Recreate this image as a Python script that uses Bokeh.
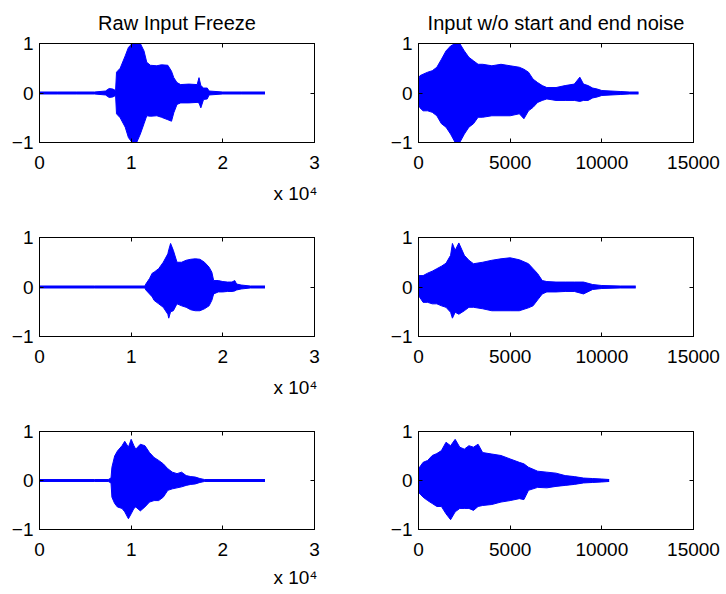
from bokeh.plotting import figure
from bokeh.layouts import column, row
from bokeh.models import Range1d, LinearAxis, FixedTicker, Title
from bokeh.embed import file_html
from bokeh.resources import INLINE

# ---------------- data (envelope of each waveform) ----
titles = ["Raw Input Freeze", "Input w/o start and end noise"]
sci_label = "x 10\u2074"

raw_ticks = [0, 10000, 20000, 30000]
raw_tick_labels = ["0", "1", "2", "3"]
trim_ticks = [0, 5000, 10000, 15000]
trim_tick_labels = ["0", "5000", "10000", "15000"]
y_ticks = [-1, 0, 1]
y_tick_labels = ["\u22121", "0", "1"]

# panel 1: raw input 1
x1 = [0, 2000, 4000, 6000, 7200, 7600, 8000, 8300, 8400, 8800, 9350, 9700, 10100, 10600,
      11000, 11400, 11700, 12100, 12800, 13300, 14000, 14400, 14650, 15000, 15400, 16300,
      17200, 17400, 17600, 17900, 18300, 18500, 20000, 22000, 24600]
u1 = [0.02, 0.02, 0.02, 0.02, 0.04, 0.09, 0.08, 0.05, 0.42, 0.50, 0.75, 0.92, 1.0, 1.0,
      1.0, 0.85, 0.62, 0.56, 0.55, 0.57, 0.56, 0.44, 0.31, 0.21, 0.17, 0.18,
      0.17, 0.31, 0.15, 0.10, 0.10, 0.04, 0.02, 0.02, 0.02]
l1 = [-0.02, -0.02, -0.02, -0.02, -0.04, -0.09, -0.08, -0.05, -0.42, -0.50, -0.69, -0.90, -1.0, -1.0,
      -0.83, -0.62, -0.46, -0.47, -0.46, -0.49, -0.54, -0.57, -0.40, -0.23, -0.20, -0.20,
      -0.19, -0.20, -0.30, -0.13, -0.12, -0.04, -0.02, -0.02, -0.02]

# panel 2: trimmed input 1
x2 = [0, 80, 250, 500, 750, 1000, 1250, 1500, 1750, 2000, 2250, 2500, 2750, 3000, 3250,
      3500, 4000, 4500, 5000, 5500, 5750, 6000, 6250, 6500, 6750, 7000, 7500, 8000, 8500,
      8800, 9000, 9250, 9500, 9750, 10000, 10500, 11000, 11500, 12000]
u2 = [0.28, 0.35, 0.38, 0.42, 0.45, 0.52, 0.68, 0.85, 0.95, 1.0, 1.0, 0.85, 0.72, 0.65, 0.58,
      0.58, 0.55, 0.58, 0.55, 0.52, 0.48, 0.42, 0.28, 0.21, 0.15, 0.11, 0.11, 0.15, 0.18,
      0.32, 0.18, 0.15, 0.10, 0.08, 0.05, 0.04, 0.03, 0.02, 0.02]
l2 = [-0.22, -0.30, -0.36, -0.36, -0.39, -0.46, -0.62, -0.69, -0.83, -1.0, -1.0, -0.83, -0.69, -0.62, -0.49,
      -0.49, -0.46, -0.46, -0.46, -0.42, -0.52, -0.36, -0.29, -0.19, -0.15, -0.12, -0.15, -0.15, -0.15,
      -0.17, -0.15, -0.15, -0.10, -0.08, -0.05, -0.04, -0.03, -0.02, -0.02]

# panel 3: raw input 2
x3 = [0, 3000, 6000, 9000, 11500, 11600, 12000, 12300, 12500, 13000, 13500, 14000, 14100,
      14300, 14600, 15000, 15500, 16000, 16500, 17000, 17500, 18000, 18500, 18800, 19000,
      19500, 20000, 20500, 21000, 21300, 21500, 22000, 23000, 24600]
u3 = [0.02, 0.02, 0.02, 0.02, 0.02, 0.06, 0.17, 0.28, 0.30, 0.37, 0.50, 0.67, 0.75,
      0.88, 0.74, 0.50, 0.50, 0.54, 0.56, 0.57, 0.56, 0.50, 0.40, 0.30, 0.13,
      0.13, 0.11, 0.10, 0.10, 0.13, 0.06, 0.04, 0.02, 0.02]
l3 = [-0.02, -0.02, -0.02, -0.02, -0.02, -0.06, -0.14, -0.20, -0.27, -0.34, -0.41, -0.55, -0.63,
      -0.50, -0.48, -0.34, -0.38, -0.41, -0.46, -0.48, -0.48, -0.44, -0.38, -0.27, -0.14,
      -0.10, -0.10, -0.09, -0.09, -0.08, -0.06, -0.04, -0.02, -0.02]

# panel 4: trimmed input 2
x4 = [0, 250, 500, 750, 1000, 1250, 1500, 1750, 1850, 2000, 2200, 2500, 2750, 3000, 3500,
      4000, 4500, 5000, 5500, 6000, 6250, 6500, 6750, 7000, 7500, 8000, 8500, 9000, 9500,
      10000, 11000, 11850]
u4 = [0.23, 0.23, 0.28, 0.32, 0.37, 0.42, 0.48, 0.64, 0.88, 0.74, 0.89, 0.64, 0.54, 0.47, 0.50,
      0.54, 0.57, 0.59, 0.55, 0.47, 0.37, 0.27, 0.13, 0.11, 0.10, 0.10, 0.10, 0.10, 0.05,
      0.03, 0.02, 0.02]
l4 = [-0.17, -0.31, -0.31, -0.34, -0.34, -0.38, -0.41, -0.51, -0.63, -0.51, -0.55, -0.48, -0.41, -0.41, -0.44,
      -0.48, -0.48, -0.48, -0.48, -0.42, -0.38, -0.26, -0.14, -0.10, -0.10, -0.09, -0.09, -0.14, -0.05,
      -0.03, -0.02, -0.02]

# panel 5: raw input 3
x5 = [0, 3000, 6000, 7500, 7800, 7900, 8200, 8500, 9000, 9300, 9700, 10000, 10300, 10500,
      11000, 11500, 12000, 12500, 13000, 13500, 14000, 14500, 15000, 15500, 16000, 16500,
      17000, 17500, 18000, 21000, 24600]
u5 = [0.02, 0.02, 0.02, 0.02, 0.05, 0.27, 0.50, 0.60, 0.71, 0.80, 0.68, 0.84, 0.71, 0.64,
      0.74, 0.71, 0.57, 0.47, 0.41, 0.34, 0.24, 0.17, 0.14, 0.17, 0.10, 0.08,
      0.07, 0.04, 0.02, 0.02, 0.02]
l5 = [-0.02, -0.02, -0.02, -0.02, -0.05, -0.34, -0.47, -0.54, -0.57, -0.64, -0.78, -0.68, -0.57, -0.54,
      -0.62, -0.54, -0.44, -0.41, -0.41, -0.34, -0.20, -0.17, -0.15, -0.13, -0.10, -0.08,
      -0.07, -0.04, -0.02, -0.02, -0.02]

# panel 6: trimmed input 3
x6 = [0, 250, 500, 750, 1000, 1250, 1500, 1750, 2000, 2250, 2500, 2750, 3000, 3250, 3500,
      4000, 4500, 5000, 5500, 5750, 6000, 6500, 7000, 7500, 8000, 8500, 9000, 9500, 10000, 10400]
u6 = [0.24, 0.37, 0.41, 0.51, 0.55, 0.61, 0.78, 0.71, 0.84, 0.68, 0.64, 0.71, 0.68, 0.74, 0.57,
      0.54, 0.51, 0.44, 0.37, 0.34, 0.27, 0.19, 0.17, 0.15, 0.10, 0.08, 0.05, 0.04, 0.03, 0.02]
l6 = [-0.24, -0.34, -0.41, -0.47, -0.53, -0.53, -0.68, -0.80, -0.64, -0.57, -0.57, -0.57, -0.61, -0.53, -0.51,
      -0.49, -0.44, -0.41, -0.37, -0.39, -0.20, -0.14, -0.15, -0.12, -0.10, -0.08, -0.05, -0.04, -0.03, -0.02]

# ---------------- styling ----------------------------------------------------
FONT = "Liberation Sans"
BLUE = "#0000ff"
TICK_PX = "19px"


def add_axis(p, side, ticks, labels, show):
    a = LinearAxis(ticker=FixedTicker(ticks=ticks))
    a.major_tick_in = 4
    a.major_tick_out = 0
    a.minor_tick_in = 0
    a.minor_tick_out = 0
    a.axis_line_color = "black"
    a.major_tick_line_color = "black"
    if show:
        a.major_label_overrides = {t: s for t, s in zip(ticks, labels)}
        a.major_label_text_font = FONT
        a.major_label_text_font_size = TICK_PX
        a.major_label_text_color = "black"
        a.major_label_standoff = 13 if side == "below" else 6
    else:
        a.major_label_text_font_size = "1px"
        a.major_label_text_color = None
        a.major_label_standoff = 0
    p.add_layout(a, side)


def panel(x, up, lo, xmax, xticks, xlabels, title, sci, width, height, bl, br, bt, bb, sci_gap):
    p = figure(width=width, height=height, output_backend="svg", toolbar_location=None,
               x_range=Range1d(0, xmax), y_range=Range1d(-1, 1),
               x_axis_type=None, y_axis_type=None,
               min_border_left=bl, min_border_right=br,
               min_border_top=bt, min_border_bottom=bb,
               background_fill_color="white", border_fill_color="white")
    p.outline_line_color = "black"
    p.outline_line_width = 1
    add_axis(p, "left", y_ticks, y_tick_labels, True)
    add_axis(p, "below", xticks, xlabels, True)
    add_axis(p, "above", xticks, xlabels, False)
    add_axis(p, "right", y_ticks, y_tick_labels, False)

    p.varea(x=x, y1=lo, y2=up, fill_color=BLUE, fill_alpha=1.0)
    p.line(x, up, line_color=BLUE, line_width=1)
    p.line(x, lo, line_color=BLUE, line_width=1)

    if title:
        p.title.text = title
        p.title.align = "center"
        p.title.text_font = FONT
        p.title.text_font_size = "20px"
        p.title.text_font_style = "normal"
        p.title.text_color = "black"
        p.title.standoff = 19
    if sci:
        p.add_layout(Title(text=sci_label, align="right", offset=-3, standoff=sci_gap,
                           text_font=FONT, text_font_size="19px",
                           text_font_style="normal", text_color="black"), "below")
    return p


LW, RW = 344, 377
p1 = panel(x1, u1, l1, 30000, raw_ticks, raw_tick_labels, titles[0], True, LW, 213, 39, 30, 43, 71, 19)
p2 = panel(x2, u2, l2, 15000, trim_ticks, trim_tick_labels, titles[1], False, RW, 213, 74, 28, 43, 71, 0)
p3 = panel(x3, u3, l3, 30000, raw_ticks, raw_tick_labels, None, True, LW, 194, 39, 30, 24, 71, 19)
p4 = panel(x4, u4, l4, 15000, trim_ticks, trim_tick_labels, None, False, RW, 194, 74, 28, 24, 71, 0)
p5 = panel(x5, u5, l5, 30000, raw_ticks, raw_tick_labels, None, True, LW, 187, 39, 30, 24, 64, 13)
p6 = panel(x6, u6, l6, 15000, trim_ticks, trim_tick_labels, None, False, RW, 187, 74, 28, 24, 64, 0)

layout = column(row(p1, p2, spacing=0), row(p3, p4, spacing=0), row(p5, p6, spacing=0), spacing=0)

open("out.html", "w").write(file_html(layout, INLINE))
